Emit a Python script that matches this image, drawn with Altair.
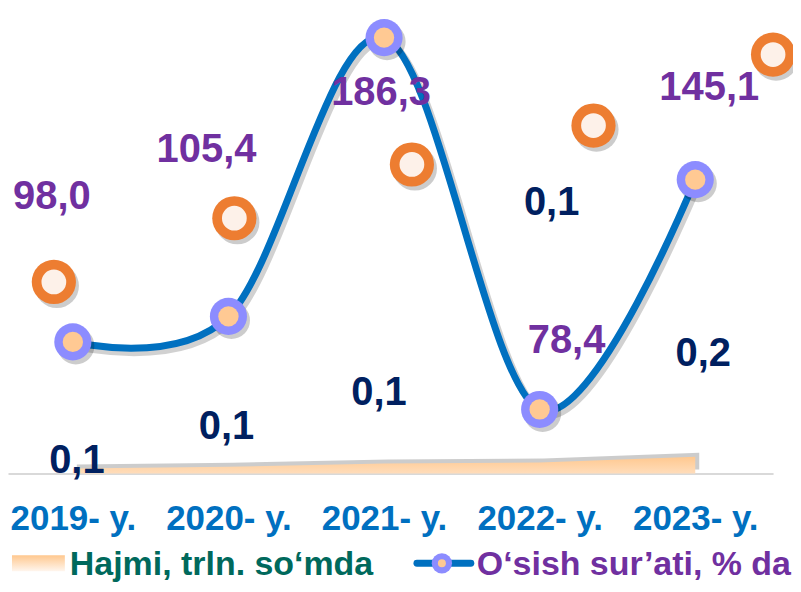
import altair as alt
import pandas as pd

# ---- data ----
years = ["2019- y.", "2020- y.", "2021- y.", "2022- y.", "2023- y."]
growth = [98.0, 105.4, 186.3, 78.4, 145.1]          # O'sish sur'ati, % da
volume = [0.06, 0.08, 0.12, 0.13, 0.20]             # Hajmi, trln. so'mda

# label anchor positions (x in category-index units, y in growth-axis units)
growth_label_x = [-0.135, 0.859, 1.981, 3.173, 4.09]
growth_label_y = [140.0, 153.6, 170.1, 98.3, 171.8]
volume_label_x = [0.026, 0.987, 1.968, 3.077, 4.051]
volume_label_y = [63.3, 73.4, 83.2, 138.2, 94.5]

# decorative orange rings (same units)
decor_x = [-0.122, 1.038, 2.179, 3.346, 4.5]
decor_y = [115.4, 133.9, 149.5, 160.8, 181.4]

legend_labels = ["Hajmi, trln. so\u2018mda", "O\u2018sish sur\u2019ati, % da"]

# ---- tables ----
idx = list(range(len(years)))
line_df = pd.DataFrame({"i": idx, "growth": growth})
vol_df = pd.DataFrame({"i": idx, "volume": volume})
glab_df = pd.DataFrame({"lx": growth_label_x, "ly": growth_label_y, "v": growth})
vlab_df = pd.DataFrame({"lx": volume_label_x, "ly": volume_label_y, "v": volume})
decor_df = pd.DataFrame({"dx": decor_x, "dy": decor_y})
one = pd.DataFrame({"k": [0]})

W, H = 767, 466
XDOM = [-0.4167, 4.5]
YDOM = [59.8, 194.7]
FONT = "Liberation Sans"

label_expr = "[" + ",".join("'" + y + "'" for y in years) + "][datum.value]"

x_axis = alt.Axis(
    values=idx, labelExpr=label_expr, title=None, grid=False,
    domain=True, domainColor="#D9D9D9", domainWidth=2,
    ticks=False, tickSize=0, labelPadding=28,
    labelFont=FONT, labelFontWeight="bold", labelFontSize=35,
    labelColor="#0070C0", labelOverlap=False, labelFlush=False,
)


def xq(f):
    return alt.X(f"{f}:Q", scale=alt.Scale(domain=XDOM, nice=False, zero=False), axis=x_axis)


def yq(f):
    return alt.Y(f"{f}:Q", scale=alt.Scale(domain=YDOM, nice=False, zero=False), axis=None)


# ---- Hajmi area ----
yvol = alt.Y("volume:Q", scale=alt.Scale(domain=[0, 5.5], nice=False), axis=None)
area_shadow = alt.Chart(vol_df).mark_area(
    color="#7F7F7F", opacity=0.4, xOffset=4, yOffset=-4
).encode(x=xq("i"), y=yvol)
area = alt.Chart(vol_df).mark_area(
    color=alt.Gradient(
        gradient="linear",
        stops=[alt.GradientStop(color="#FFC88F", offset=0),
               alt.GradientStop(color="#FFDDBB", offset=1)],
        x1=0, x2=0, y1=0, y2=1,
    )
).encode(x=xq("i"), y=yvol)

# ---- growth line ----
line_shadow = alt.Chart(line_df).mark_line(
    color="#000000", opacity=0.18, strokeWidth=8, interpolate="cardinal",
    xOffset=3, yOffset=4
).encode(x=xq("i"), y=yq("growth"))
line = alt.Chart(line_df).mark_line(
    color="#0070C0", strokeWidth=7, interpolate="cardinal"
).encode(x=xq("i"), y=yq("growth"))

mk_shadow = alt.Chart(line_df).mark_circle(
    size=1385, color="#000000", opacity=0.2, xOffset=3, yOffset=4
).encode(x=xq("i"), y=yq("growth"))
mk_outer = alt.Chart(line_df).mark_circle(size=1385, color="#8C8CFF", opacity=1).encode(
    x=xq("i"), y=yq("growth"))
mk_inner = alt.Chart(line_df).mark_circle(size=415, color="#FFC993", opacity=1).encode(
    x=xq("i"), y=yq("growth"))

# ---- decorative orange rings ----
dc_shadow = alt.Chart(decor_df).mark_circle(
    size=1963, color="#000000", opacity=0.2, xOffset=3, yOffset=4
).encode(x=xq("dx"), y=yq("dy"))
dc_outer = alt.Chart(decor_df).mark_circle(size=1963, color="#ED7D31", opacity=1).encode(
    x=xq("dx"), y=yq("dy"))
dc_inner = alt.Chart(decor_df).mark_circle(size=616, color="#FDF1E9", opacity=1).encode(
    x=xq("dx"), y=yq("dy"))

# ---- data labels ----
fmt = "replace(format(datum.v, '.1f'), '.', ',')"
glab = alt.Chart(glab_df).transform_calculate(lab=fmt).mark_text(
    font=FONT, fontWeight="bold", fontSize=40, color="#7030A0",
    align="center", baseline="middle"
).encode(x=xq("lx"), y=yq("ly"), text="lab:N")
vlab = alt.Chart(vlab_df).transform_calculate(lab=fmt).mark_text(
    font=FONT, fontWeight="bold", fontSize=40, color="#002060",
    align="center", baseline="middle"
).encode(x=xq("lx"), y=yq("ly"), text="lab:N")

# ---- custom legend ----
LY = 556  # legend centre line (chart px)
lg_rect = alt.Chart(one).mark_rect(
    color=alt.Gradient(
        gradient="linear",
        stops=[alt.GradientStop(color="#FFC88F", offset=0),
               alt.GradientStop(color="#FFF6EE", offset=1)],
        x1=0, x2=0, y1=0, y2=1,
    )
).encode(x=alt.value(4), x2=alt.value(57), y=alt.value(LY - 8), y2=alt.value(LY + 8))
lg_text1 = alt.Chart(one).mark_text(
    font=FONT, fontWeight="bold", fontSize=34, color="#00695C",
    align="left", baseline="alphabetic"
).encode(x=alt.value(62), y=alt.value(LY + 12), text=alt.value(legend_labels[0]))
lg_line = alt.Chart(one).mark_rule(color="#0070C0", strokeWidth=7, strokeCap="round").encode(
    x=alt.value(410), x2=alt.value(464), y=alt.value(LY))
lg_mo = alt.Chart(one).mark_circle(size=415, color="#8C8CFF", opacity=1).encode(
    x=alt.value(435), y=alt.value(LY))
lg_mi = alt.Chart(one).mark_circle(size=64, color="#FFC993", opacity=1).encode(
    x=alt.value(435), y=alt.value(LY))
lg_text2 = alt.Chart(one).mark_text(
    font=FONT, fontWeight="bold", fontSize=34, color="#7030A0",
    align="left", baseline="alphabetic"
).encode(x=alt.value(470), y=alt.value(LY + 12), text=alt.value(legend_labels[1]))

chart = alt.layer(
    area_shadow, area,
    line_shadow, line,
    dc_shadow, dc_outer, dc_inner,
    mk_shadow, mk_outer, mk_inner,
    glab, vlab,
    lg_rect, lg_text1, lg_line, lg_mo, lg_mi, lg_text2,
).resolve_scale(y="independent").properties(
    width=W, height=H,
    padding={"left": 0, "top": 0, "right": 20, "bottom": 110},
    autosize=alt.AutoSizeParams(type="none"),
    background="white",
).configure_view(stroke=None)

chart.save("out.html", embed_options={"renderer": "svg", "actions": False})
